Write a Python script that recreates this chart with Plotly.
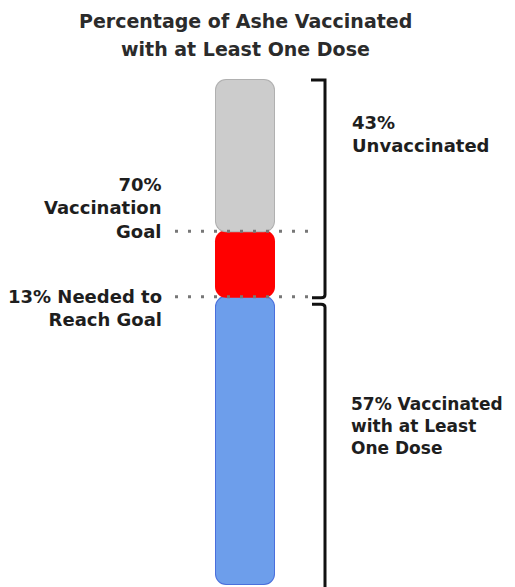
import plotly.graph_objects as go

# ---- data ----
segments = ["Vaccinated (at least one dose)", "Needed to reach goal", "Remaining unvaccinated"]
values = [57, 13, 30]
fill_colors = ["#6d9eeb", "#ff0000", "#cccccc"]
edge_colors = ["#4a6fdc", "#ff0000", "#b0b0b0"]
goal_pct = 70
vaccinated_pct = 57
unvaccinated_pct = 43
needed_pct = 13

title_lines = ["Percentage of Ashe Vaccinated", "with at Least One Dose"]

# ---- layout constants (page pixels; page body has an 8px margin) ----
PAGE_W, PAGE_H = 515, 587
OFF = 8
W, H = PAGE_W - OFF, PAGE_H - OFF
BAR_X = 245
BAR_W = 58
Y100_PX = 80   # page px of the 100% level
Y0_PX = 584    # page px of the 0% level
PX_PER_UNIT = (Y0_PX - Y100_PX) / 100
FONT = "DejaVu Sans"
TXT = "#1e1e1e"

fig = go.Figure()

bounds = []
acc = 0
for v in values:
    bounds.append((acc, acc + v))
    acc += v

ext = 1.0 / PX_PER_UNIT  # one pixel in data units
for (lo, hi), fc, ec in zip(bounds, fill_colors, edge_colors):
    fig.add_trace(go.Bar(
        x=[BAR_X], y=[hi - lo + 2 * ext], base=[lo - ext], width=[BAR_W + 2],
        marker=dict(color=ec, line=dict(width=0), cornerradius=11),
        hoverinfo="skip", showlegend=False))
    fig.add_trace(go.Bar(
        x=[BAR_X], y=[hi - lo], base=[lo], width=[BAR_W],
        marker=dict(color=fc, line=dict(width=0), cornerradius=10),
        hoverinfo="skip", showlegend=False))

# dotted guide lines at goal and vaccinated level
for yv in (goal_pct, vaccinated_pct):
    fig.add_shape(type="line", xref="x", yref="y", x0=175, x1=308, y0=yv, y1=yv,
                  line=dict(color="#777777", width=3, dash="3px,10px"), layer="above")

# braces
top = 100
upper_bottom = vaccinated_pct - 0.2
lower_top = vaccinated_pct - 1.5
bx = 325
brace_line = dict(color="#111111", width=3)
fig.add_shape(type="path", xref="x", yref="y",
              path=f"M 311,{top} L {bx},{top} L {bx},{upper_bottom+0.6} Q {bx},{upper_bottom} {bx-4},{upper_bottom} L 312,{upper_bottom}",
              line=brace_line)
fig.add_shape(type="path", xref="x", yref="y",
              path=f"M 312,{lower_top} L {bx-4},{lower_top} Q {bx},{lower_top} {bx},{lower_top-0.6} L {bx},-3",
              line=brace_line)

# text annotations
lab_font = dict(family=FONT, size=18, color=TXT, weight="bold")
fig.add_annotation(x=163, y=goal_pct, xref="x", yref="y", xanchor="right", yanchor="middle",
                   align="right", showarrow=False, yshift=23.4, borderpad=0,
                   text=f"{goal_pct}%<br>Vaccination<br>Goal", font=lab_font)
fig.add_annotation(x=163, y=vaccinated_pct, xref="x", yref="y", xanchor="right", yanchor="middle",
                   align="right", showarrow=False, yshift=-11.7, borderpad=0,
                   text=f"{needed_pct}% Needed to<br>Reach Goal", font=lab_font)
fig.add_annotation(x=351, y=89.2, xref="x", yref="y", xanchor="left", yanchor="middle",
                   align="left", showarrow=False, borderpad=0,
                   text=f"{unvaccinated_pct}%<br>Unvaccinated", font=lab_font)
fig.add_annotation(x=350, y=vaccinated_pct / 2, xref="x", yref="y", xanchor="left", yanchor="middle",
                   align="left", showarrow=False, borderpad=0, yshift=14,
                   text=f"{vaccinated_pct}% Vaccinated<br>with at Least<br>One Dose",
                   font=dict(family=FONT, size=17, color=TXT, weight="bold"))

# axes
plot_top_page = 75
plot_top = plot_top_page - OFF
y_hi = 100 + (Y100_PX - plot_top_page) / PX_PER_UNIT
y_lo = -(PAGE_H - Y0_PX) / PX_PER_UNIT

# title (two lines), centred on the bar; page y of line centres 21 and 49
for i, line in enumerate(title_lines):
    page_y = 21 + 28 * i
    fig_px = page_y - OFF
    paper_y = 1 + (plot_top - fig_px) / (H - plot_top)
    fig.add_annotation(x=BAR_X, y=paper_y, xref="x", yref="paper",
                       text=line, showarrow=False, xanchor="center", yanchor="middle",
                       font=dict(family=FONT, size=19, color="#2b2b2b", weight="bold"))

fig.update_layout(
    width=W, height=H,
    margin=dict(l=0, r=0, t=plot_top, b=0, pad=0),
    paper_bgcolor="white", plot_bgcolor="white",
    barmode="overlay",
    xaxis=dict(range=[OFF, PAGE_W], visible=False, fixedrange=True),
    yaxis=dict(range=[y_lo, y_hi], visible=False, fixedrange=True),
    showlegend=False,
)

fig.write_html("out.html")
